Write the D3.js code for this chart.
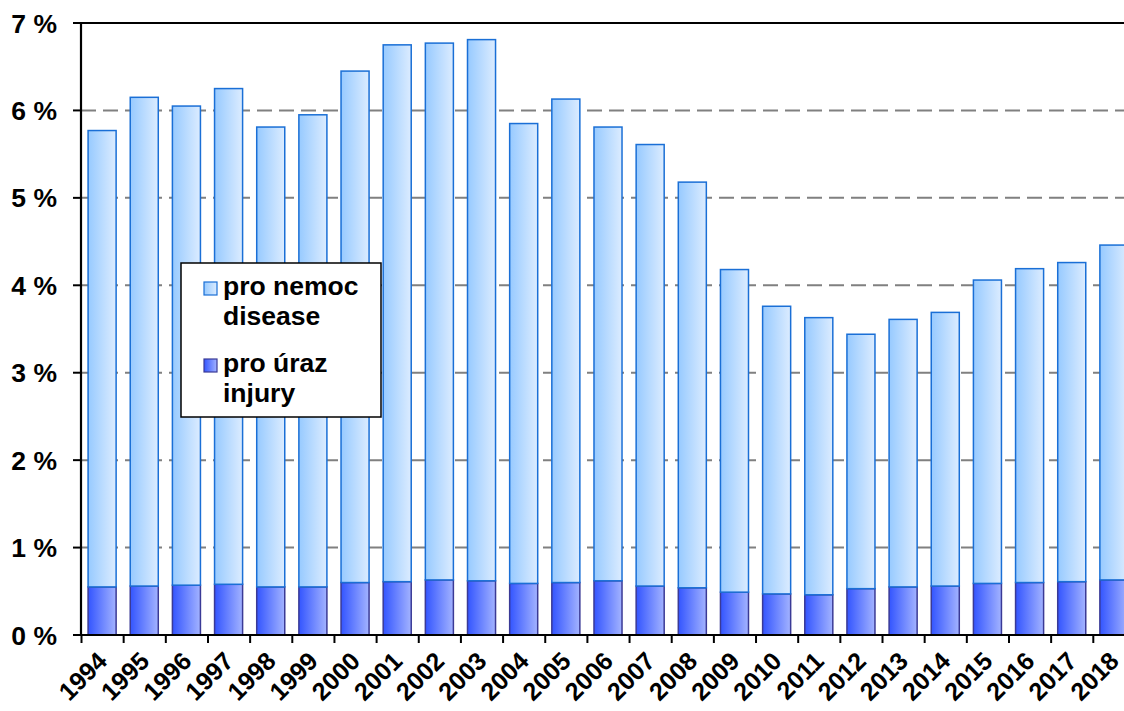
<!DOCTYPE html>
<html><head><meta charset="utf-8">
<script src="https://cdn.jsdelivr.net/npm/d3@7"></script>
<style>body{margin:0;background:#fff} svg{display:block}</style>
</head><body>
<svg id="c" width="1124" height="711"></svg>
<script>
const years = ["1994","1995","1996","1997","1998","1999","2000","2001","2002","2003","2004","2005","2006","2007","2008","2009","2010","2011","2012","2013","2014","2015","2016","2017","2018"];
const injury = [0.55,0.56,0.57,0.58,0.55,0.55,0.60,0.61,0.63,0.62,0.59,0.60,0.62,0.56,0.54,0.49,0.47,0.46,0.53,0.55,0.56,0.59,0.60,0.61,0.63];
const disease = [5.22,5.59,5.48,5.67,5.26,5.40,5.85,6.14,6.14,6.19,5.26,5.53,5.19,5.05,4.64,3.69,3.29,3.17,2.91,3.06,3.13,3.47,3.59,3.65,3.83];
const yTicks = [0,1,2,3,4,5,6,7];
const seriesKeys = ["injury","disease"];
const legendLines = [["pro nemoc","disease"],["pro úraz","injury"]];

const FONT = "'Liberation Sans', Arial, sans-serif";
const svg = d3.select("#c");
const x = d3.scaleBand().domain(years).range([81, 1135]).paddingInner(0.335).paddingOuter(0.168);
const y = d3.scaleLinear().domain([0, 7]).range([635, 23]);

const defs = svg.append("defs");
const grads = {
  disease: ["#97caff", "#dcecff"],
  injury: ["#3355ff", "#a3b3ff"]
};
const strokes = { disease: "#1a6fd6", injury: "#3a3a96" };
Object.entries(grads).forEach(([k, c]) => {
  const g = defs.append("linearGradient").attr("id", "g-" + k).attr("x1", 0).attr("x2", 1).attr("y1", 0).attr("y2", 0);
  g.append("stop").attr("offset", "0%").attr("stop-color", c[0]);
  g.append("stop").attr("offset", "100%").attr("stop-color", c[1]);
});

// gridlines
svg.append("g").selectAll("line").data(yTicks.filter(d => d > 0 && d < 7)).join("line")
  .attr("x1", 81).attr("x2", 1124).attr("y1", d => y(d)).attr("y2", d => y(d))
  .attr("stroke", "#808080").attr("stroke-width", 2).attr("stroke-dasharray", "15,7");
svg.append("line").attr("x1", 81).attr("x2", 1124).attr("y1", y(7)).attr("y2", y(7))
  .attr("stroke", "#000").attr("stroke-width", 2.2);

// bars
const rows = years.map((yr, i) => ({ year: yr, injury: injury[i], disease: disease[i] }));
const stacked = d3.stack().keys(seriesKeys)(rows);
svg.append("g").selectAll("g").data(stacked).join("g")
  .attr("fill", d => `url(#g-${d.key})`).attr("stroke", d => strokes[d.key]).attr("stroke-width", 1.5)
  .selectAll("rect").data(d => d).join("rect")
  .attr("x", d => x(d.data.year)).attr("width", x.bandwidth())
  .attr("y", d => y(d[1])).attr("height", d => y(d[0]) - y(d[1]));

// axes
const step = x.step();
const x0 = x.range()[0];
svg.append("g").selectAll("line").data(d3.range(years.length + 1)).join("line")
  .attr("x1", k => x0 + k * step + 0.5).attr("x2", k => x0 + k * step + 0.5)
  .attr("y1", 635).attr("y2", 643).attr("stroke", "#000").attr("stroke-width", 2);
svg.append("g").selectAll("line").data(yTicks).join("line")
  .attr("x1", 73).attr("x2", 81).attr("y1", d => y(d)).attr("y2", d => y(d))
  .attr("stroke", "#000").attr("stroke-width", 2);
svg.append("line").attr("x1", 81).attr("x2", 81).attr("y1", y(7) - 1).attr("y2", 636).attr("stroke", "#000").attr("stroke-width", 2.2);
svg.append("line").attr("x1", 80).attr("x2", 1124).attr("y1", 635).attr("y2", 635).attr("stroke", "#000").attr("stroke-width", 2.2);

svg.append("g").selectAll("text").data(yTicks).join("text")
  .attr("x", 57).attr("y", d => y(d)).attr("dy", "0.36em").attr("text-anchor", "end")
  .attr("font-family", FONT).attr("font-weight", "bold").attr("font-size", 26.5)
  .text(d => d + " %");

svg.append("g").selectAll("text").data(years).join("text")
  .attr("transform", d => `translate(${x(d) + x.bandwidth() / 2 - 6},${650}) rotate(-45)`)
  .attr("text-anchor", "end").attr("dy", "0.71em")
  .attr("font-family", FONT).attr("font-weight", "bold").attr("font-size", 25)
  .text(d => d);

// legend
const lg = svg.append("g");
lg.append("rect").attr("x", 181).attr("y", 263).attr("width", 200).attr("height", 154)
  .attr("fill", "#fff").attr("stroke", "#000").attr("stroke-width", 1.5);
const legendKeys = ["disease", "injury"];
legendKeys.forEach((k, i) => {
  const top = i === 0 ? 282 : 359;
  lg.append("rect").attr("x", 204).attr("y", top).attr("width", 13).attr("height", 13)
    .attr("fill", `url(#g-${k})`).attr("stroke", strokes[k]).attr("stroke-width", 1.2);
  legendLines[i].forEach((t, j) => {
    lg.append("text").attr("x", 223).attr("y", top + 13 + j * 30)
      .attr("font-family", FONT).attr("font-weight", "bold").attr("font-size", 26.5).text(t);
  });
});
</script>
</body></html>
